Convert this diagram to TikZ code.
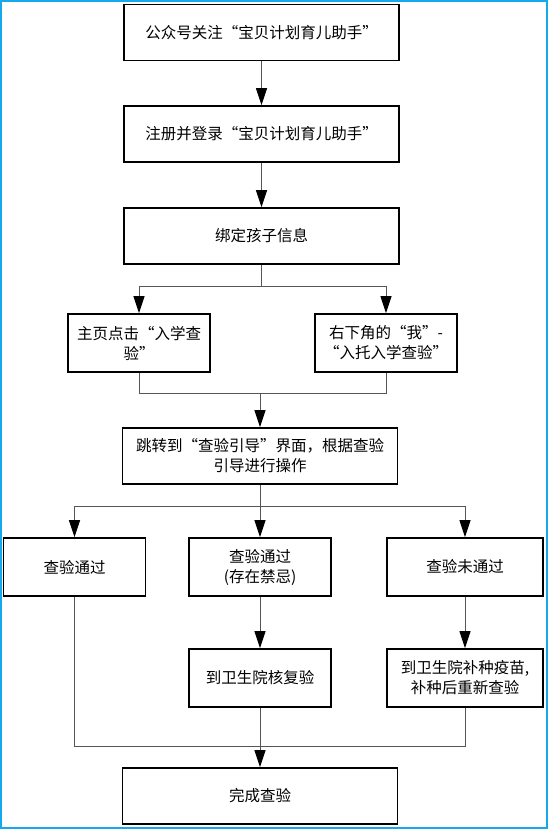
\documentclass[tikz,border=0pt]{standalone}
\usepackage{fontspec}
\setmainfont{Noto Sans CJK SC}
\usetikzlibrary{arrows.meta}
\definecolor{frame}{RGB}{20,168,236}
\definecolor{conn}{RGB}{85,85,85}
\begin{document}
\begin{tikzpicture}[x=1pt,y=-1pt,
  box/.style={draw=black,line width=1.8pt,fill=white,rectangle,align=center,
    inner sep=0pt,font=\fontsize{15.5}{20}\selectfont},
  wide/.style={box,minimum width=275pt,minimum height=56pt},
  narrow/.style={box,minimum width=142pt,minimum height=58pt},
  conline/.style={draw=conn,line width=1pt},
  arr/.style={conline,-{Triangle[length=17pt,width=11pt,fill=black,color=black]}}]
\useasboundingbox (0,0) rectangle (548,829);
\draw[frame,line width=2.4pt] (1.2,1.2) rectangle (546.8,827.8);

\node[wide] (b1) at (261.5,32.5) {公众号关注“宝贝计划育儿助手”};
\node[wide] (b2) at (261.5,134) {注册并登录“宝贝计划育儿助手”};
\node[wide] (b3) at (261.5,236) {绑定孩子信息};
\node[narrow] (bL) at (139,343) {主页点击“入学查\\验”};
\node[narrow] (bR) at (386,343) {右下角的“我”-\\“入托入学查验”};
\node[wide] (b4) at (260,456) {跳转到“查验引导”界面，根据查验\\引导进行操作};
\node[narrow] (bA) at (74.5,567) {查验通过};
\node[narrow] (bB) at (260,567) {查验通过\\(存在禁忌)};
\node[narrow,minimum width=156pt] (bC) at (465,567) {查验未通过};
\node[narrow] (bD) at (260,678) {到卫生院核复验};
\node[narrow,minimum width=156pt] (bE) at (465,678) {到卫生院补种疫苗,\\补种后重新查验};
\node[wide] (bF) at (260,796) {完成查验};

\coordinate (j1) at (261.5,286);
\coordinate (j2) at (260,393);
\coordinate (j3) at (260,506);
\coordinate (j4) at (260,746);

\draw[arr] (b1) -- (b2);
\draw[arr] (b2) -- (b3);
\draw[conline] (b3.south) -- (j1);
\draw[arr] (j1) -| (bL.north);
\draw[arr] (j1) -| (bR.north);
\draw[conline] (bL.south) |- (j2);
\draw[conline] (bR.south) |- (j2);
\draw[arr] (j2) -- (b4.north);
\draw[arr] (b4.south) -- (bB.north);
\draw[arr] (j3) -| (bA.north);
\draw[arr] (j3) -| (bC.north);
\draw[arr] (bB) -- (bD);
\draw[arr] (bC) -- (bE);
\draw[conline] (bA.south) |- (j4);
\draw[conline] (bE.south) |- (j4);
\draw[arr] (bD.south) -- (bF.north);
\end{tikzpicture}
\end{document}
